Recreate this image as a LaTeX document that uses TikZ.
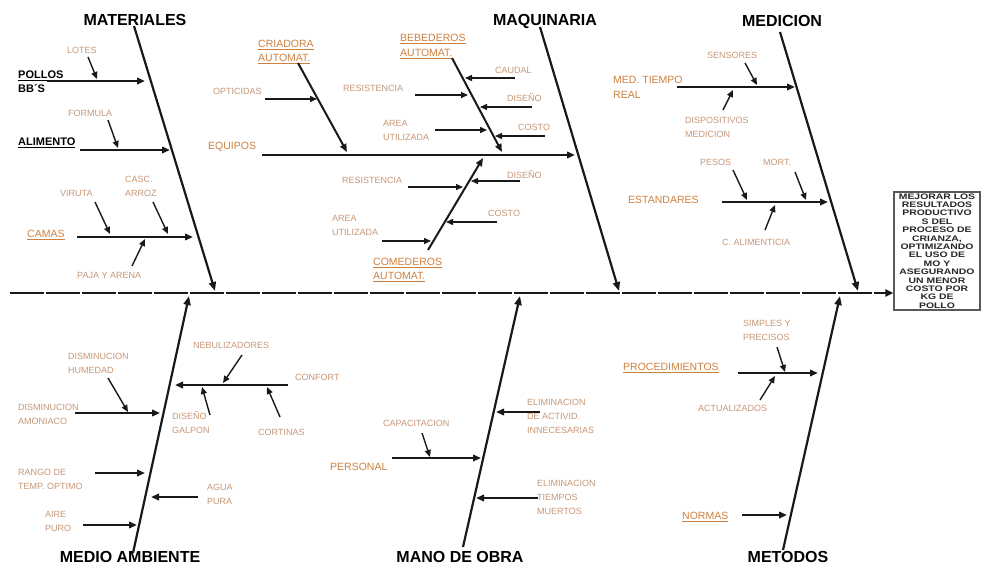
\documentclass[tikz,border=0pt]{standalone}
\usepackage{fontspec}
\setmainfont{Liberation Sans}
\newfontfamily\boxfont[FakeStretch=1.3]{Liberation Sans}
\usetikzlibrary{arrows.meta,positioning}
\definecolor{cOrange}{RGB}{206,128,62}
\definecolor{cTan}{RGB}{198,150,118}
\definecolor{cBone}{RGB}{25,25,25}
\tikzset{
  cause/.style={font=\fontsize{16}{18}\selectfont\bfseries,inner sep=0pt},
  keycause/.style={font=\fontsize{11}{14}\selectfont\bfseries,anchor=west,
                   align=left,inner sep=0pt},
  subcause/.style={font=\fontsize{10.5}{14.5}\selectfont,text=cOrange,
                   anchor=west,align=left,inner sep=0pt},
  detail/.style={font=\fontsize{9}{14}\selectfont,text=cTan,anchor=west,
                 align=left,inner sep=0pt},
  effectbox/.style={rectangle,draw=black!65,line width=1.3pt,align=center,
                    minimum width=86pt,minimum height=118pt,inner sep=1pt,
                    font=\boxfont\bfseries\fontsize{8}{8.4}\selectfont,text=black!85},
  spine/.style={-{Triangle[length=8pt,width=7pt]},line width=2pt,color=cBone,
                dash pattern=on 34pt off 2pt},
  bone/.style={-{Triangle[length=9pt,width=7pt]},line width=2.2pt,color=cBone},
  branch/.style={-{Triangle[length=8pt,width=6.5pt]},line width=2pt,color=cBone},
  twig/.style={-{Triangle[length=7pt,width=6pt]},line width=1.4pt,color=cBone}
}

\begin{document}
\begin{tikzpicture}[x=1pt,y=-1pt]
  \useasboundingbox (0,0) rectangle (982,568);

  % effect and spine
  \node[effectbox] (effect) at (937,251)
      {MEJORAR LOS\\RESULTADOS\\PRODUCTIVO\\S DEL\\PROCESO DE\\CRIANZA,\\
       OPTIMIZANDO\\EL USO DE\\MO Y\\ASEGURANDO\\UN MENOR\\COSTO POR\\KG DE\\POLLO};
  \coordinate (spStart) at (10,293);
  \draw[spine] (spStart) -- (spStart -| effect.west);

  % main bones
  \node[cause] (mat) at (135,20) {MATERIALES};
  \node[cause] (maq) at (545,21) {MAQUINARIA};
  \node[cause] (med) at (782,21) {MEDICION};
  \node[cause] (amb) at (130,557) {MEDIO AMBIENTE};
  \node[cause] (man) at (460,557) {MANO DE OBRA};
  \node[cause] (met) at (788,557) {METODOS};
  \coordinate (matTop) at (134,26);  \coordinate (matEnd) at (215,291);
  \coordinate (maqTop) at (540,27);  \coordinate (maqEnd) at (619,291);
  \coordinate (medTop) at (780,32);  \coordinate (medEnd) at (858,291);
  \coordinate (ambBot) at (133,553); \coordinate (ambEnd) at (189,296);
  \coordinate (manBot) at (463,547); \coordinate (manEnd) at (520,296);
  \coordinate (metBot) at (783,550); \coordinate (metEnd) at (840,296);
  \draw[bone] (matTop) -- (matEnd);
  \draw[bone] (maqTop) -- (maqEnd);
  \draw[bone] (medTop) -- (medEnd);
  \draw[bone] (ambBot) -- (ambEnd);
  \draw[bone] (manBot) -- (manEnd);
  \draw[bone] (metBot) -- (metEnd);

  % Materiales
  \node[keycause] (pollos) at (18,82) {\underline{POLLOS}\\BB´S};
  \node[keycause] (alim) at (18,143) {\underline{ALIMENTO}};
  \node[subcause] (camas) at (27,235) {\underline{CAMAS}};
  \node[detail] (lotes) at (67,50) {LOTES};
  \node[detail] (formula) at (68,113) {FORMULA};
  \node[detail] (viruta) at (60,193) {VIRUTA};
  \node[detail] (casc) at (125,186.5) {CASC.\\ARROZ};
  \node[detail] (paja) at (77,275) {PAJA Y ARENA};
  \coordinate (pollosA) at (47,81);   \coordinate (pollosB) at (145,81);
  \coordinate (alimA) at (80,150);    \coordinate (alimB) at (170,150);
  \coordinate (camasA) at (77,237);   \coordinate (camasB) at (193,237);
  \coordinate (lotesA) at (88,57);    \coordinate (lotesB) at (97,79);
  \coordinate (formA) at (108,120);   \coordinate (formB) at (118,148);
  \coordinate (virA) at (95,202);     \coordinate (virB) at (110,234);
  \coordinate (cascA) at (153,202);   \coordinate (cascB) at (168,234);
  \coordinate (pajaA) at (132,266);   \coordinate (pajaB) at (145,239);
  \draw[branch] (pollosA) -- (pollosB);
  \draw[branch] (alimA) -- (alimB);
  \draw[branch] (camasA) -- (camasB);
  \foreach \a/\b in {lotesA/lotesB,formA/formB,virA/virB,cascA/cascB,pajaA/pajaB}
    \draw[twig] (\a) -- (\b);

  % Maquinaria
  \node[subcause] (equipos) at (208,147) {EQUIPOS};
  \node[subcause] (criad) at (258,52) {\underline{CRIADORA}\\\underline{AUTOMAT.}};
  \node[subcause] (bebed) at (400,46.5) {\underline{BEBEDEROS}\\\underline{AUTOMAT.}};
  \node[subcause] (comed) at (373,270) {\underline{COMEDEROS}\\\underline{AUTOMAT.}};
  \node[detail] (optic) at (213,91) {OPTICIDAS};
  \node[detail] (resis1) at (343,88) {RESISTENCIA};
  \node[detail] (area1) at (383,130) {AREA\\UTILIZADA};
  \node[detail] (caudal) at (495,70) {CAUDAL};
  \node[detail] (dis1) at (507,98) {DISEÑO};
  \node[detail] (cos1) at (518,127) {COSTO};
  \node[detail] (resis2) at (342,180) {RESISTENCIA};
  \node[detail] (area2) at (332,225.5) {AREA\\UTILIZADA};
  \node[detail] (dis2) at (507,175) {DISEÑO};
  \node[detail] (cos2) at (488,213) {COSTO};
  \coordinate (equA) at (262,155);    \coordinate (equB) at (575,155);
  \coordinate (criA) at (298,63);     \coordinate (criB) at (347,152);
  \coordinate (bebA) at (452,58);     \coordinate (bebB) at (502,152);
  \coordinate (comA) at (428,250);    \coordinate (comB) at (483,158);
  \coordinate (optA) at (265,99);     \coordinate (optB) at (317,99);
  \coordinate (res1A) at (415,95);    \coordinate (res1B) at (468,95);
  \coordinate (are1A) at (435,130);   \coordinate (are1B) at (487,130);
  \coordinate (cauA) at (515,78);     \coordinate (cauB) at (465,78);
  \coordinate (dis1A) at (532,107);   \coordinate (dis1B) at (480,107);
  \coordinate (cos1A) at (545,136);   \coordinate (cos1B) at (495,136);
  \coordinate (res2A) at (408,187);   \coordinate (res2B) at (463,187);
  \coordinate (are2A) at (382,241);   \coordinate (are2B) at (431,241);
  \coordinate (dis2A) at (520,181);   \coordinate (dis2B) at (471,181);
  \coordinate (cos2A) at (497,222);   \coordinate (cos2B) at (446,222);
  \foreach \a/\b in {equA/equB,criA/criB,bebA/bebB,comA/comB}
    \draw[branch] (\a) -- (\b);
  \foreach \a/\b in {optA/optB,res1A/res1B,are1A/are1B,cauA/cauB,dis1A/dis1B,
                     cos1A/cos1B,res2A/res2B,are2A/are2B,dis2A/dis2B,cos2A/cos2B}
    \draw[twig] (\a) -- (\b);

  % Medicion
  \node[subcause] (tiempo) at (613,87.5) {MED. TIEMPO\\REAL};
  \node[subcause] (estand) at (628,200) {ESTANDARES};
  \node[detail] (sensor) at (707,55) {SENSORES};
  \node[detail] (dispos) at (685,127.5) {DISPOSITIVOS\\MEDICION};
  \node[detail] (pesos) at (700,162) {PESOS};
  \node[detail] (mort) at (763,162) {MORT.};
  \node[detail] (calim) at (722,242) {C. ALIMENTICIA};
  \coordinate (tieA) at (677,87);     \coordinate (tieB) at (795,87);
  \coordinate (estA) at (722,202);    \coordinate (estB) at (828,202);
  \coordinate (senA) at (745,63);     \coordinate (senB) at (757,85);
  \coordinate (dispA) at (723,110);   \coordinate (dispB) at (733,90);
  \coordinate (pesA) at (733,170);    \coordinate (pesB) at (747,200);
  \coordinate (morA) at (795,172);    \coordinate (morB) at (806,200);
  \coordinate (calA) at (765,230);    \coordinate (calB) at (775,205);
  \draw[branch] (tieA) -- (tieB);
  \draw[branch] (estA) -- (estB);
  \foreach \a/\b in {senA/senB,dispA/dispB,pesA/pesB,morA/morB,calA/calB}
    \draw[twig] (\a) -- (\b);

  % Medio ambiente
  \node[detail] (amon) at (18,414.5) {DISMINUCION\\AMONIACO};
  \node[detail] (humed) at (68,363) {DISMINUCION\\HUMEDAD};
  \node[detail] (rango) at (18,479.5) {RANGO DE\\TEMP. OPTIMO};
  \node[detail] (aire) at (45,521.5) {AIRE\\PURO};
  \node[detail] (confort) at (295,377) {CONFORT};
  \node[detail] (nebul) at (193,345) {NEBULIZADORES};
  \node[detail] (galpon) at (172,422.5) {DISEÑO\\GALPON};
  \node[detail] (cortin) at (258,432) {CORTINAS};
  \node[detail] (agua) at (207,494) {AGUA\\PURA};
  \coordinate (amoA) at (75,413);     \coordinate (amoB) at (160,413);
  \coordinate (ranA) at (95,473);     \coordinate (ranB) at (145,473);
  \coordinate (aireA) at (83,525);    \coordinate (aireB) at (137,525);
  \coordinate (conA) at (288,385);    \coordinate (conB) at (175,385);
  \coordinate (aguA) at (198,497);    \coordinate (aguB) at (151,497);
  \coordinate (humA) at (108,378);    \coordinate (humB) at (128,412);
  \coordinate (nebA) at (242,355);    \coordinate (nebB) at (223,383);
  \coordinate (galA) at (210,415);    \coordinate (galB) at (202,387);
  \coordinate (corA) at (280,417);    \coordinate (corB) at (267,387);
  \foreach \a/\b in {amoA/amoB,ranA/ranB,aireA/aireB,conA/conB,aguA/aguB}
    \draw[branch] (\a) -- (\b);
  \foreach \a/\b in {humA/humB,nebA/nebB,galA/galB,corA/corB}
    \draw[twig] (\a) -- (\b);

  % Mano de obra
  \node[subcause] (person) at (330,467) {PERSONAL};
  \node[detail] (capac) at (383,423) {CAPACITACION};
  \node[detail] (activ) at (527,416.5) {ELIMINACION\\DE ACTIVID.\\INNECESARIAS};
  \node[detail] (muert) at (537,497.5) {ELIMINACION\\TIEMPOS\\MUERTOS};
  \coordinate (perA) at (392,458);    \coordinate (perB) at (481,458);
  \coordinate (actA) at (540,412);    \coordinate (actB) at (496,412);
  \coordinate (mueA) at (538,498);    \coordinate (mueB) at (476,498);
  \coordinate (capA) at (422,433);    \coordinate (capB) at (430,457);
  \foreach \a/\b in {perA/perB,actA/actB,mueA/mueB}
    \draw[branch] (\a) -- (\b);
  \draw[twig] (capA) -- (capB);

  % Metodos
  \node[subcause] (proced) at (623,368) {\underline{PROCEDIMIENTOS}};
  \node[subcause] (normas) at (682,517) {\underline{NORMAS}};
  \node[detail] (simpl) at (743,330) {SIMPLES Y\\PRECISOS};
  \node[detail] (actual) at (698,408) {ACTUALIZADOS};
  \coordinate (proA) at (738,373);    \coordinate (proB) at (818,373);
  \coordinate (norA) at (742,515);    \coordinate (norB) at (787,515);
  \coordinate (simA) at (777,347);    \coordinate (simB) at (785,372);
  \coordinate (actuA) at (760,400);   \coordinate (actuB) at (775,376);
  \draw[branch] (proA) -- (proB);
  \draw[branch] (norA) -- (norB);
  \draw[twig] (simA) -- (simB);
  \draw[twig] (actuA) -- (actuB);

\end{tikzpicture}
\end{document}
